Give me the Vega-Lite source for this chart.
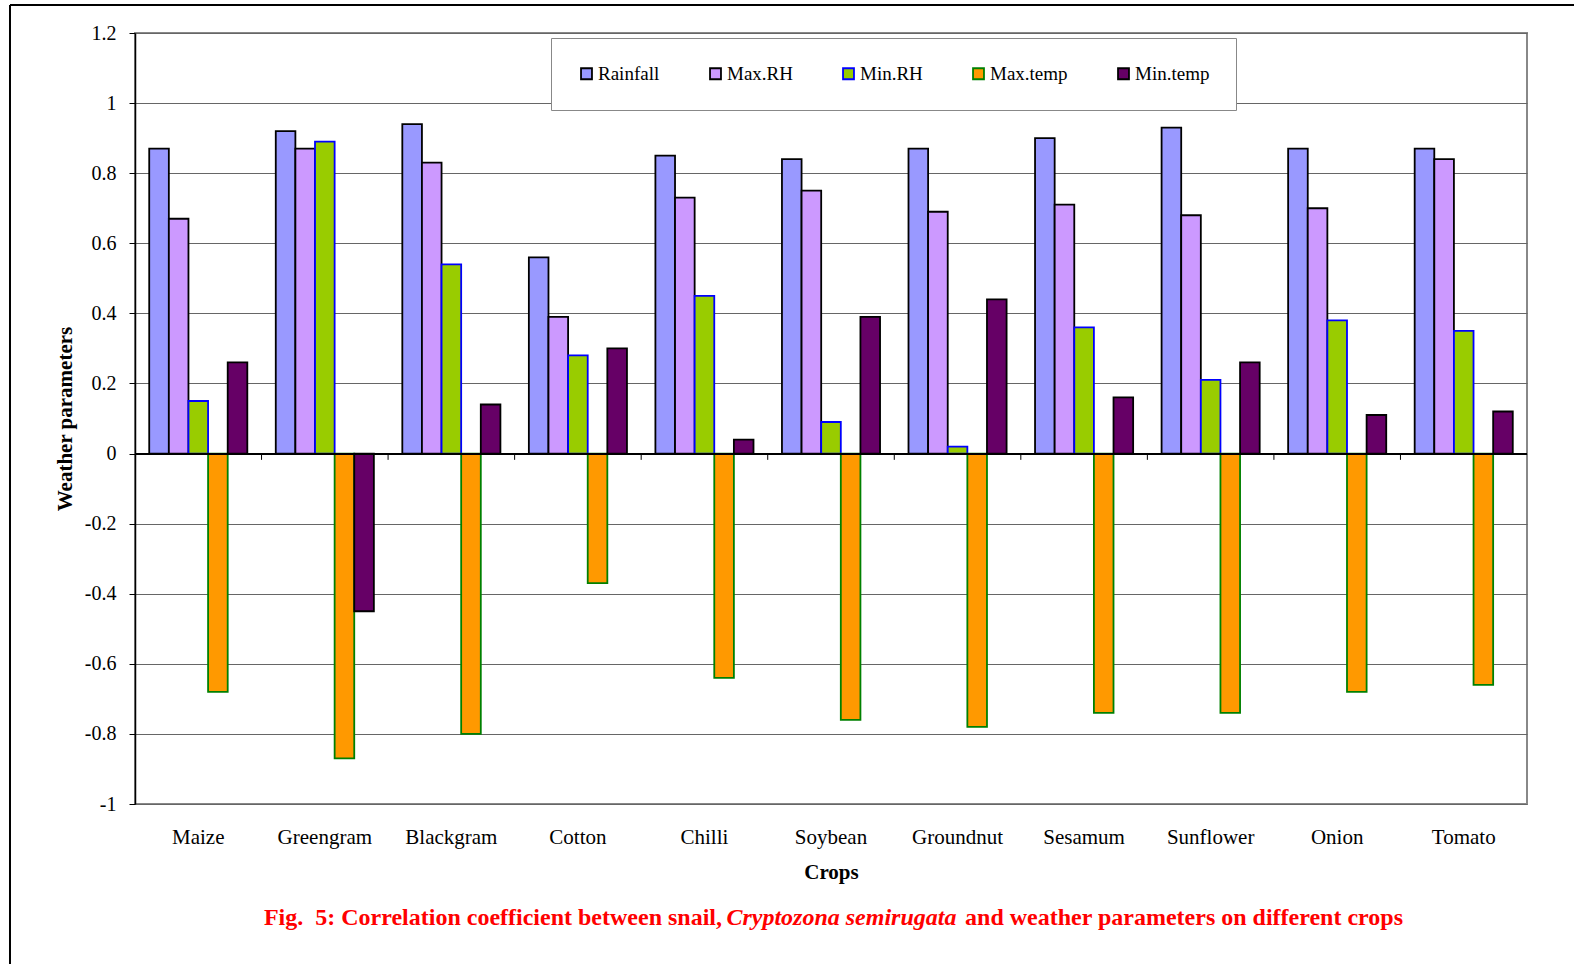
{
  "$schema": "https://vega.github.io/schema/vega-lite/v6.json",
  "width": 1392,
  "height": 771,
  "autosize": {"type": "none"},
  "padding": {"left": 135, "top": 33, "right": 47, "bottom": 160},
  "background": "white",
  "config": {
    "font": "Liberation Serif",
    "view": {"stroke": "#888888", "strokeWidth": 2}
  },
  "datasets": {
    "corr": [
      {"crop": "Maize", "param": "Rainfall", "r": 0.87},
      {"crop": "Maize", "param": "Max.RH", "r": 0.67},
      {"crop": "Maize", "param": "Min.RH", "r": 0.15},
      {"crop": "Maize", "param": "Max.temp", "r": -0.68},
      {"crop": "Maize", "param": "Min.temp", "r": 0.26},
      {"crop": "Greengram", "param": "Rainfall", "r": 0.92},
      {"crop": "Greengram", "param": "Max.RH", "r": 0.87},
      {"crop": "Greengram", "param": "Min.RH", "r": 0.89},
      {"crop": "Greengram", "param": "Max.temp", "r": -0.87},
      {"crop": "Greengram", "param": "Min.temp", "r": -0.45},
      {"crop": "Blackgram", "param": "Rainfall", "r": 0.94},
      {"crop": "Blackgram", "param": "Max.RH", "r": 0.83},
      {"crop": "Blackgram", "param": "Min.RH", "r": 0.54},
      {"crop": "Blackgram", "param": "Max.temp", "r": -0.80},
      {"crop": "Blackgram", "param": "Min.temp", "r": 0.14},
      {"crop": "Cotton", "param": "Rainfall", "r": 0.56},
      {"crop": "Cotton", "param": "Max.RH", "r": 0.39},
      {"crop": "Cotton", "param": "Min.RH", "r": 0.28},
      {"crop": "Cotton", "param": "Max.temp", "r": -0.37},
      {"crop": "Cotton", "param": "Min.temp", "r": 0.30},
      {"crop": "Chilli", "param": "Rainfall", "r": 0.85},
      {"crop": "Chilli", "param": "Max.RH", "r": 0.73},
      {"crop": "Chilli", "param": "Min.RH", "r": 0.45},
      {"crop": "Chilli", "param": "Max.temp", "r": -0.64},
      {"crop": "Chilli", "param": "Min.temp", "r": 0.04},
      {"crop": "Soybean", "param": "Rainfall", "r": 0.84},
      {"crop": "Soybean", "param": "Max.RH", "r": 0.75},
      {"crop": "Soybean", "param": "Min.RH", "r": 0.09},
      {"crop": "Soybean", "param": "Max.temp", "r": -0.76},
      {"crop": "Soybean", "param": "Min.temp", "r": 0.39},
      {"crop": "Groundnut", "param": "Rainfall", "r": 0.87},
      {"crop": "Groundnut", "param": "Max.RH", "r": 0.69},
      {"crop": "Groundnut", "param": "Min.RH", "r": 0.02},
      {"crop": "Groundnut", "param": "Max.temp", "r": -0.78},
      {"crop": "Groundnut", "param": "Min.temp", "r": 0.44},
      {"crop": "Sesamum", "param": "Rainfall", "r": 0.90},
      {"crop": "Sesamum", "param": "Max.RH", "r": 0.71},
      {"crop": "Sesamum", "param": "Min.RH", "r": 0.36},
      {"crop": "Sesamum", "param": "Max.temp", "r": -0.74},
      {"crop": "Sesamum", "param": "Min.temp", "r": 0.16},
      {"crop": "Sunflower", "param": "Rainfall", "r": 0.93},
      {"crop": "Sunflower", "param": "Max.RH", "r": 0.68},
      {"crop": "Sunflower", "param": "Min.RH", "r": 0.21},
      {"crop": "Sunflower", "param": "Max.temp", "r": -0.74},
      {"crop": "Sunflower", "param": "Min.temp", "r": 0.26},
      {"crop": "Onion", "param": "Rainfall", "r": 0.87},
      {"crop": "Onion", "param": "Max.RH", "r": 0.70},
      {"crop": "Onion", "param": "Min.RH", "r": 0.38},
      {"crop": "Onion", "param": "Max.temp", "r": -0.68},
      {"crop": "Onion", "param": "Min.temp", "r": 0.11},
      {"crop": "Tomato", "param": "Rainfall", "r": 0.87},
      {"crop": "Tomato", "param": "Max.RH", "r": 0.84},
      {"crop": "Tomato", "param": "Min.RH", "r": 0.35},
      {"crop": "Tomato", "param": "Max.temp", "r": -0.66},
      {"crop": "Tomato", "param": "Min.temp", "r": 0.12}
    ]
  },
  "layer": [
    {
      "data": {"name": "corr"},
      "layer": [
        {
          "mark": {"type": "bar", "strokeWidth": 1.8},
          "encoding": {
            "x": {
              "field": "crop",
              "type": "nominal",
              "sort": null,
              "scale": {"paddingInner": 0, "paddingOuter": 0},
              "axis": {
                "orient": "bottom",
                "title": "Crops",
                "labelAngle": 0,
                "labelFont": "Liberation Serif",
                "labelFontSize": 21,
                "labelColor": "black",
                "labelPadding": 22,
                "ticks": false,
                "domain": false,
                "grid": false,
                "titleFont": "Liberation Serif",
                "titleFontSize": 21,
                "titleFontWeight": "bold",
                "titleColor": "black",
                "titlePadding": 14
              }
            },
            "xOffset": {
              "field": "param",
              "type": "nominal",
              "sort": ["Rainfall", "Max.RH", "Min.RH", "Max.temp", "Min.temp"],
              "scale": {"paddingInner": 0, "paddingOuter": 0.725}
            },
            "y": {
              "field": "r",
              "type": "quantitative",
              "scale": {"domain": [-1, 1.2], "nice": false, "zero": false},
              "axis": {
                "title": "Weather parameters",
                "values": [-1, -0.8, -0.6, -0.4, -0.2, 0, 0.2, 0.4, 0.6, 0.8, 1, 1.2],
                "labelExpr": "replace(format(datum.value, '~g'), '\u2212', '-')",
                "labelFont": "Liberation Serif",
                "labelFontSize": 20,
                "labelColor": "black",
                "labelPadding": 13,
                "tickSize": 6,
                "tickColor": "black",
                "domainColor": "black",
                "domainWidth": 1.5,
                "gridColor": "#666666",
                "gridWidth": 1,
                "titleFont": "Liberation Serif",
                "titleFontSize": 21,
                "titleFontWeight": "bold",
                "titleColor": "black",
                "titlePadding": 9
              }
            },
            "fill": {
              "field": "param",
              "type": "nominal",
              "sort": ["Rainfall", "Max.RH", "Min.RH", "Max.temp", "Min.temp"],
              "scale": {
                "domain": ["Rainfall", "Max.RH", "Min.RH", "Max.temp", "Min.temp"],
                "range": ["#9999FF", "#CC99FF", "#99CC00", "#FF9900", "#660066"]
              },
              "legend": {
                "title": null,
                "orient": "none",
                "direction": "horizontal",
                "legendX": 416,
                "legendY": 5,
                "padding": 26,
                "columnPadding": 46,
                "labelOffset": 2,
                "labelFont": "Liberation Serif",
                "labelFontSize": 19,
                "labelColor": "black",
                "symbolType": "square",
                "symbolSize": 120,
                "symbolStrokeWidth": 1.8,
                "fillColor": "white",
                "strokeColor": "#888888"
              }
            },
            "stroke": {
              "field": "param",
              "type": "nominal",
              "sort": ["Rainfall", "Max.RH", "Min.RH", "Max.temp", "Min.temp"],
              "scale": {
                "domain": ["Rainfall", "Max.RH", "Min.RH", "Max.temp", "Min.temp"],
                "range": ["#000000", "#000000", "#0000FF", "#008000", "#000000"]
              },
              "legend": {
                "title": null,
                "orient": "none",
                "direction": "horizontal",
                "legendX": 416,
                "legendY": 5,
                "padding": 26,
                "columnPadding": 46,
                "labelOffset": 2,
                "labelFont": "Liberation Serif",
                "labelFontSize": 19,
                "labelColor": "black",
                "symbolType": "square",
                "symbolSize": 120,
                "symbolStrokeWidth": 1.8,
                "fillColor": "white",
                "strokeColor": "#888888"
              }
            }
          }
        },
        {
          "mark": {"type": "rule", "color": "black", "strokeWidth": 1.2},
          "encoding": {"y": {"datum": 0, "type": "quantitative"}}
        },
        {
          "transform": [{"filter": "datum.param == 'Rainfall' && datum.crop != 'Maize'"}],
          "mark": {"type": "rule", "color": "black", "strokeWidth": 1},
          "encoding": {
            "x": {"field": "crop", "type": "nominal", "sort": null, "bandPosition": 0},
            "y": {"datum": 0, "type": "quantitative"},
            "y2": {"datum": -0.018}
          }
        }
      ]
    },
    {
      "data": {"values": [{}]},
      "mark": {"type": "text", "align": "right", "baseline": "middle", "font": "Liberation Serif", "fontWeight": "bold", "fontSize": 24, "color": "#FF0000", "text": "Fig.\u00a0 5: Correlation coefficient between snail,", "clip": false},
      "encoding": {
        "x": {"datum": 0.4217, "type": "quantitative", "scale": {"domain": [0, 1]}, "axis": null},
        "y": {"datum": -1.324, "type": "quantitative"}
      }
    },
    {
      "data": {"values": [{}]},
      "mark": {"type": "text", "align": "center", "baseline": "middle", "font": "Liberation Serif", "fontWeight": "bold", "fontStyle": "italic", "fontSize": 24, "color": "#FF0000", "text": "Cryptozona semirugata", "clip": false},
      "encoding": {
        "x": {"datum": 0.5075, "type": "quantitative", "scale": {"domain": [0, 1]}, "axis": null},
        "y": {"datum": -1.324, "type": "quantitative"}
      }
    },
    {
      "data": {"values": [{}]},
      "mark": {"type": "text", "align": "left", "baseline": "middle", "font": "Liberation Serif", "fontWeight": "bold", "fontSize": 24, "color": "#FF0000", "text": "and weather parameters on different crops", "clip": false},
      "encoding": {
        "x": {"datum": 0.5963, "type": "quantitative", "scale": {"domain": [0, 1]}, "axis": null},
        "y": {"datum": -1.324, "type": "quantitative"}
      }
    },
    {
      "data": {"values": [{}]},
      "mark": {"type": "rule", "color": "black", "strokeWidth": 2, "clip": false},
      "encoding": {
        "x": {"datum": -0.0898, "type": "quantitative", "scale": {"domain": [0, 1]}, "axis": null},
        "x2": {"datum": 1.04},
        "y": {"datum": 1.28, "type": "quantitative"}
      }
    },
    {
      "data": {"values": [{}]},
      "mark": {"type": "rule", "color": "black", "strokeWidth": 2, "clip": false},
      "encoding": {
        "x": {"datum": -0.0898, "type": "quantitative", "scale": {"domain": [0, 1]}, "axis": null},
        "y": {"datum": 1.28, "type": "quantitative"},
        "y2": {"datum": -1.5}
      }
    }
  ],
  "resolve": {"scale": {"x": "independent"}, "axis": {"x": "independent"}}
}
